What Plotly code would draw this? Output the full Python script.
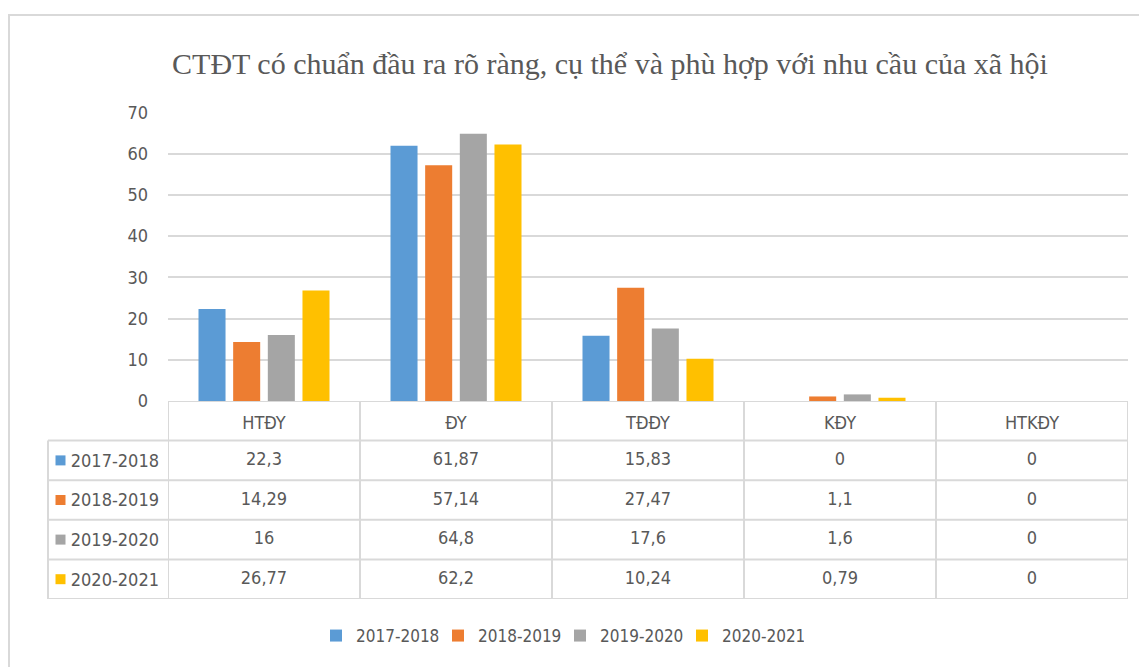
import plotly.graph_objects as go

categories = ["HTĐY", "ĐY", "TĐĐY", "KĐY", "HTKĐY"]
series_names = ["2017-2018", "2018-2019", "2019-2020", "2020-2021"]
s2017 = [22.3, 61.87, 15.83, 0, 0]
s2018 = [14.29, 57.14, 27.47, 1.1, 0]
s2019 = [16, 64.8, 17.6, 1.6, 0]
s2020 = [26.77, 62.2, 10.24, 0.79, 0]
y_ticks = [0, 10, 20, 30, 40, 50, 60, 70]
title_text = "CTĐT có chuẩn đầu ra rõ ràng, cụ thể và phù hợp với nhu cầu của xã hội"

series = [s2017, s2018, s2019, s2020]
colors = ["#5B9BD5", "#ED7D31", "#A5A5A5", "#FFC000"]

W, H = 1139, 667
ML, MR = 48, 11
PW = W - ML - MR
FONT = "'DejaVu Sans Condensed', 'DejaVu Sans', sans-serif"
TXT = "#595959"
GRID = "#d9d9d9"
CLEAR = "rgba(0,0,0,0)"

def py(px):  # pixel from top -> paper y
    return (H - px) / H

def px_x(px):
    return (px - ML) / PW

def fmt(v):
    return f"{v:g}".replace(".", ",")

ncat, nser = len(categories), len(series_names)

fig = go.Figure()
for name, vals, c in zip(series_names, series, colors):
    fig.add_trace(go.Bar(name=name, x=categories, y=vals, marker_color=c,
                         marker_line_width=0))

# data table values (one text per cell), on the category axis x and row axis y2
tx, ty, tt = [], [], []
for name, vals in zip(series_names, series):
    for cat, v in zip(categories, vals):
        tx.append(cat); ty.append(name); tt.append(fmt(v))
fig.add_trace(go.Scatter(x=tx, y=ty, text=tt, mode="text", yaxis="y2",
                         textposition="middle center",
                         textfont=dict(family=FONT, size=18, color=TXT),
                         showlegend=False, hoverinfo="skip"))

# legend keys inside the table's first column
fig.add_trace(go.Scatter(
    x=[12.5] * nser, y=series_names, mode="markers",
    marker=dict(symbol="square", size=10, color=colors, line=dict(width=0)),
    xaxis="x2", yaxis="y2", showlegend=False, hoverinfo="skip"))

# table grid lines
line = dict(color=GRID, width=2)
shapes = [dict(type="line", xref="x", yref="y2", x0=-0.5, x1=ncat - 0.5,
               y0=-1.5, y1=-1.5, line=line)]
for j in range(nser + 1):
    shapes.append(dict(type="line", xref="paper", yref="y2", x0=0, x1=1,
                       y0=j - 0.5, y1=j - 0.5, line=line))
for i in range(ncat + 1):
    shapes.append(dict(type="line", xref="x", yref="y2", x0=i - 0.5, x1=i - 0.5,
                       y0=-1.5, y1=nser - 0.5, line=line))
shapes.append(dict(type="line", xref="paper", yref="y2", x0=0, x1=0,
                   y0=-0.5, y1=nser - 0.5, line=line))
# chart outer border
shapes.append(dict(type="rect", xref="paper", yref="paper",
                   x0=px_x(9), x1=px_x(1160), y0=py(700), y1=py(15),
                   line=dict(color=GRID, width=2), fillcolor=CLEAR, layer="below"))

fig.update_layout(
    width=W, height=H,
    margin=dict(l=ML, r=MR, t=0, b=0, autoexpand=False),
    paper_bgcolor="white", plot_bgcolor="white",
    barmode="group", bargap=0.278, bargroupgap=0.22,
    title=dict(text=title_text, x=610 / W, xref="container", xanchor="center",
               y=1 - 63 / H, yref="container", yanchor="middle",
               font=dict(family="'Liberation Serif', 'Times New Roman', serif", size=30, color=TXT)),
    xaxis=dict(domain=[px_x(168), 1], type="category", range=[-0.5, ncat - 0.5],
               showticklabels=True, ticklabelstandoff=9,
               tickfont=dict(family=FONT, size=18, color=TXT),
               showgrid=False, zeroline=False, showline=False, ticks=""),
    yaxis=dict(domain=[py(401), py(112.3)], range=[0, 70], tickvals=y_ticks,
               showgrid=True, gridcolor=GRID, gridwidth=1.5, zeroline=False,
               showline=False, ticks="", ticklabelstandoff=19,
               tickfont=dict(family=FONT, size=18, color=TXT)),
    xaxis2=dict(domain=[0, px_x(168)], range=[0, 120], visible=False, anchor="y2"),
    yaxis2=dict(domain=[py(599), py(401)], type="category",
                categoryarray=series_names, categoryorder="array",
                range=[nser - 0.5, -1.5], anchor="x",
                showgrid=False, zeroline=False, showline=False, ticks="",
                ticklabelstandoff=8,
                tickfont=dict(family=FONT, size=18, color=TXT)),
    legend=dict(orientation="h", x=px_x(316), xanchor="left", y=py(636), yanchor="middle",
                font=dict(family=FONT, size=17, color=TXT),
                entrywidth=77, entrywidthmode="pixels", itemclick=False),
    showlegend=True,
    shapes=shapes,
)

fig.write_html("out.html", config={"displayModeBar": False},
               post_script="document.body.style.margin='0px';")
